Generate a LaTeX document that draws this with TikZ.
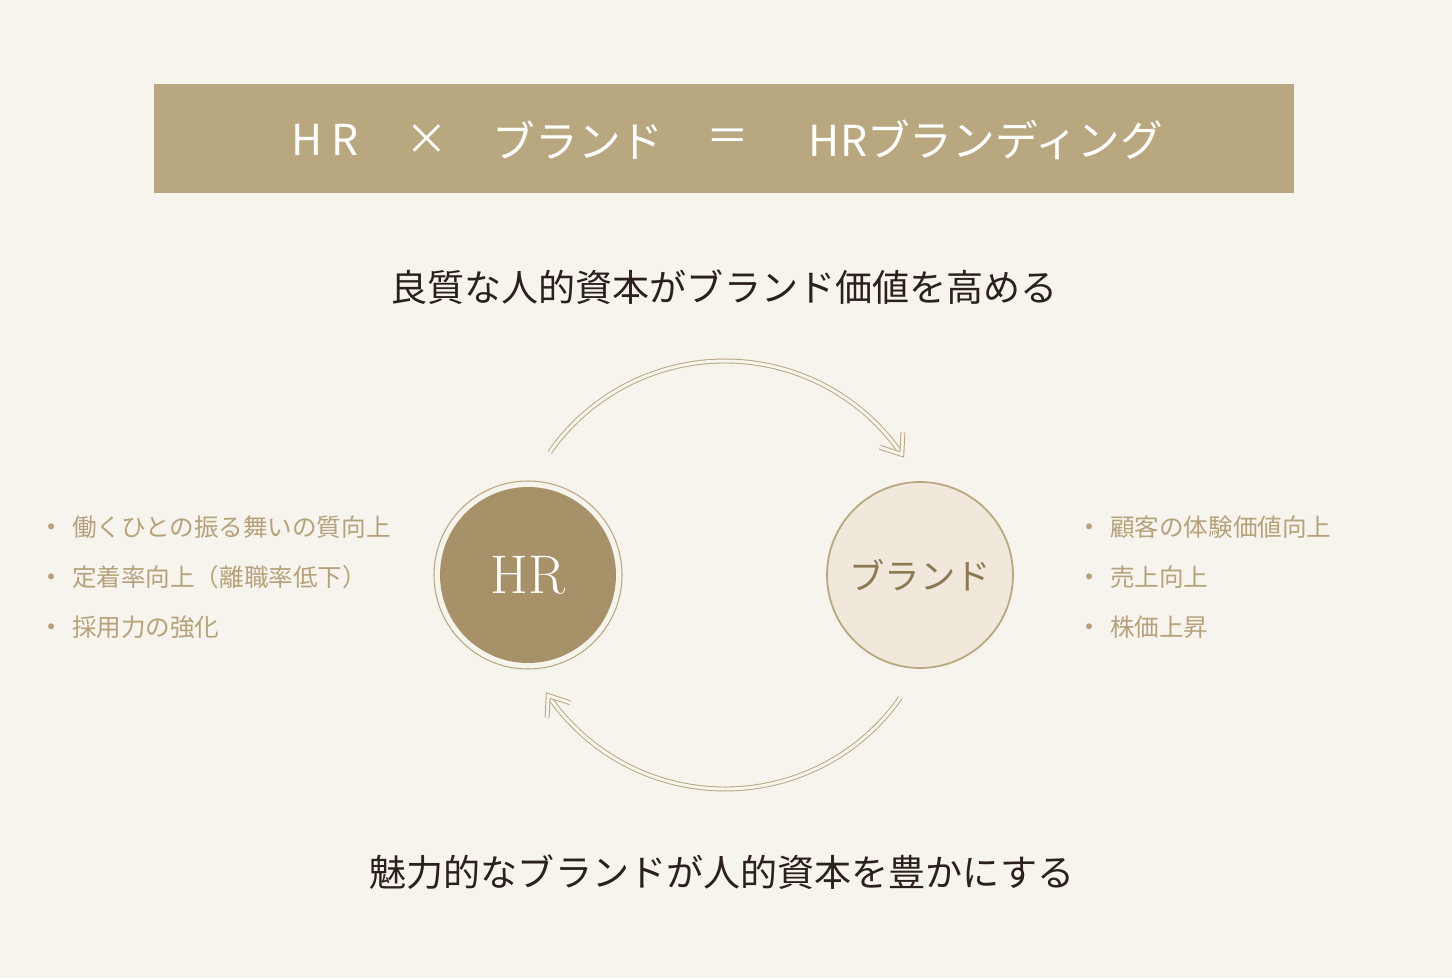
\documentclass[tikz,border=0pt]{standalone}
\usepackage{fontspec}
\newfontfamily\jp{Noto Sans CJK JP}
\usetikzlibrary{positioning}

\definecolor{paper}{HTML}{F7F4EE}
\definecolor{gold}{HTML}{B8A77F}
\definecolor{hrgold}{HTML}{A69168}
\definecolor{cream}{HTML}{F0E8DA}
\definecolor{brandtext}{HTML}{8C7A55}
\definecolor{ink}{HTML}{2B2118}
\definecolor{listgold}{HTML}{B5A27A}

\begin{document}
\begin{tikzpicture}[
            x=0.02cm, y=0.02cm,
            every node/.style={ inner sep=0pt, outer sep=0pt },
            titletext/.style={ font=\jp\fontsize{24.3pt}{29pt}\selectfont, text=white },
            lead/.style={ font=\jp\fontsize{21.1pt}{25pt}\selectfont, text=ink },
            item/.style={ font=\jp\fontsize{14pt}{17pt}\selectfont, text=listgold, anchor=west },
            bullet/.style={ font=\jp\fontsize{16pt}{19pt}\selectfont, text=listgold },
            loopline/.style={ draw=gold, line width=0.55pt, double=paper, double distance=1.7pt }
        ]

        \fill[paper] (0,0) rectangle (1452,978);
        \useasboundingbox (0,0) rectangle (1452,978);

        % banner
        \node[fill=gold, minimum width=22.8cm, minimum height=2.18cm] (banner) at (724,839.5) {};
        \node[titletext] (hrword) at (325,838) {H R};
        \node[titletext] (times) at (427,838) {×};
        \node[titletext] (brandword) at (578,838) {ブランド};
        \node[titletext] (equals) at (728,838) {＝};
        \node[titletext] (result) at (986,838) {HRブランディング};

        \node[lead] (leadtop) at (724,691) {良質な人的資本がブランド価値を高める};
        \node[lead] (leadbottom) at (722,106) {魅力的なブランドが人的資本を豊かにする};

        % the two circles
        \node[circle, fill=hrgold, minimum size=3.52cm, text=white,
              font=\fontsize{31pt}{36pt}\selectfont] (hr) at (528,403) {HR};
        \draw[gold, line width=0.6pt] (hr) circle[radius=94];
        \node[circle, fill=cream, draw=gold, line width=1pt, minimum size=3.72cm, text=brandtext,
              font=\jp\fontsize{20.1pt}{24pt}\selectfont] (brand) at (920,403) {ブランド};

        % arrows between them
        \coordinate (mid) at (725,403);
        \draw[loopline] (mid) ++(145:214) coordinate (topstart) arc[start angle=145, end angle=35.5, radius=214];
        \path (mid) ++(34.3:214) coordinate (toptip);
        \draw[loopline] (toptip) ++(162:23) -- (toptip) -- ++(87:22);

        \draw[loopline] (mid) ++(-35:214) coordinate (bottomstart) arc[start angle=-35, end angle=-144.5, radius=214];
        \path (mid) ++(-145.7:214) coordinate (bottomtip);
        \draw[loopline] (bottomtip) ++(-18:23) -- (bottomtip) -- ++(-93:22);

        % HR side
        \node[bullet] (hrdot1) at (52,447) {・};
        \node[item] (hritem1) at (72,451) {働くひとの振る舞いの質向上};
        \node[bullet] (hrdot2) at (52,397) {・};
        \node[item] (hritem2) at (72,401) {定着率向上（離職率低下）};
        \node[bullet] (hrdot3) at (52,347) {・};
        \node[item] (hritem3) at (72,351) {採用力の強化};

        % brand side
        \node[bullet] (branddot1) at (1090,447) {・};
        \node[item] (branditem1) at (1110,451) {顧客の体験価値向上};
        \node[bullet] (branddot2) at (1090,397) {・};
        \node[item] (branditem2) at (1110,401) {売上向上};
        \node[bullet] (branddot3) at (1090,347) {・};
        \node[item] (branditem3) at (1110,351) {株価上昇};
    \end{tikzpicture}
\end{document}
